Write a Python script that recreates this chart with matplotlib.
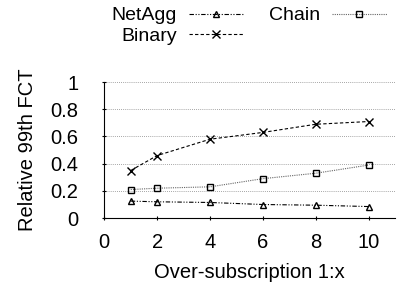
import matplotlib.pyplot as plt

plt.rcParams['font.family'] = ['Liberation Sans', 'DejaVu Sans']

x = [1, 2, 4, 6, 8, 10]
netagg = [0.125, 0.12, 0.115, 0.10, 0.095, 0.085]
binary = [0.35, 0.46, 0.58, 0.63, 0.69, 0.71]
chain = [0.21, 0.22, 0.23, 0.29, 0.33, 0.39]

fig = plt.figure(figsize=(4.09, 2.87), dpi=100)
ax = fig.add_axes([0.255, 0.24, 0.711, 0.474])

ax.plot(x, netagg, color='black', linestyle=(0, (4, 1.5, 1, 1.5, 1, 1.5)), lw=0.8,
        marker='^', markersize=5, markerfacecolor='none', markeredgewidth=1.0, label='NetAgg')
ax.plot(x, binary, color='black', linestyle=(0, (3, 2)), lw=0.8,
        marker='x', markersize=5.5, markeredgewidth=1.0, label='Binary')
ax.plot(x, chain, color='#666666', linestyle=(0, (1, 1)), lw=0.8,
        marker='s', markersize=5, markerfacecolor='none', markeredgecolor='black',
        markeredgewidth=1.0, label='Chain')

ax.set_xlim(0, 11)
ax.set_ylim(0, 1)
ax.set_xticks([0, 2, 4, 6, 8, 10])
ax.set_yticks([0, 0.2, 0.4, 0.6, 0.8, 1])
ax.set_yticklabels(['0', '0.2', '0.4', '0.6', '0.8', '1'])
ax.tick_params(labelsize=14.5, length=3, direction='inout')
ax.tick_params(axis='y', pad=17)
ax.tick_params(axis='x', pad=9)
ax.yaxis.grid(True, linestyle=(0, (1, 1.5)), color='#888888', lw=0.6)
ax.spines['top'].set_visible(False)
ax.spines['right'].set_visible(False)
ax.set_xlabel('Over-subscription 1:x', fontsize=14.5, labelpad=8)
ax.set_ylabel('Relative 99th FCT', fontsize=14.5, labelpad=10)

fig.legend(loc='upper left', bbox_to_anchor=(0.23, 1.037), ncol=2, frameon=False,
           fontsize=14, markerfirst=False, handlelength=2.8, columnspacing=1.35,
           labelspacing=0.15, handletextpad=0.6)

fig.savefig('out.png', dpi=100)
